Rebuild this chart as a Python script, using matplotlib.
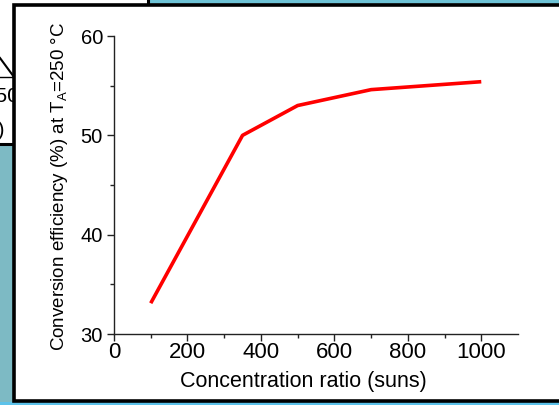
import matplotlib
matplotlib.use('Agg')
import matplotlib.pyplot as plt
from matplotlib.patches import Rectangle
from matplotlib.lines import Line2D

plt.rcParams['font.family'] = ['Liberation Sans', 'DejaVu Sans']
plt.rcParams['mathtext.fontset'] = 'custom'
plt.rcParams['mathtext.rm'] = 'Liberation Sans'
plt.rcParams['mathtext.it'] = 'Liberation Sans:italic'

# concentration ratio (suns) vs conversion efficiency (%)
conc = [100, 350, 500, 700, 1000]
eff = [33.1, 50.0, 53.0, 54.6, 55.4]

x_ticks = [0, 200, 400, 600, 800, 1000]
y_ticks = [30, 40, 50, 60]

W, H = 559, 405
fig = plt.figure(figsize=(W / 100, H / 100), dpi=100)
fig.patch.set_facecolor('#7dbac4')


def fx(px):
    return px / W


def fy(py):
    return 1 - py / H


def rect(x0, y0, x1, y1, **kw):
    return Rectangle((fx(x0), fy(y1)), fx(x1) - fx(x0), fy(y0) - fy(y1),
                     transform=fig.transFigure, **kw)


# top strip and bottom strip colours
fig.add_artist(rect(0, 0, W, 3, facecolor='#6ec3d6', edgecolor='none', zorder=-5))
fig.add_artist(rect(0, 402, W, H, facecolor='#5cc2ea', edgecolor='none', zorder=-5))

# slide box behind, top left
fig.add_artist(rect(-10, -10, 148, 144, facecolor='white', edgecolor='black',
                    linewidth=2.2, zorder=-4))
fig.add_artist(Line2D([fx(0), fx(14)], [fy(77), fy(77)], color='black', lw=1,
                      transform=fig.transFigure, zorder=-3))
fig.add_artist(Line2D([fx(0), fx(14)], [fy(58), fy(77)], color='black', lw=1.5,
                      transform=fig.transFigure, zorder=-3))
fig.text(fx(19), fy(97), '250', fontsize=15, va='center', ha='right', zorder=-3)
fig.text(fx(5), fy(130), '(%)', fontsize=15, va='center', ha='right', zorder=-3)

# main white box
fig.add_artist(rect(13.5, 4.5, W + 20, 401, facecolor='white', edgecolor='black',
                    linewidth=2.6, zorder=-1))

ax = fig.add_axes([fx(114), fy(334), fx(518) - fx(114), fy(36) - fy(334)])
ax.patch.set_visible(False)
ax.plot(conc, eff, color='#ff0000', linewidth=2.6, solid_capstyle='butt')

ax.set_xlim(0, 1100)
ax.set_ylim(30, 60)
ax.set_xticks(x_ticks)
ax.set_yticks(y_ticks)
ax.set_xticks(range(100, 1100, 200), minor=True)
ax.set_yticks([35, 45, 55], minor=True)

for s in ['top', 'right']:
    ax.spines[s].set_visible(False)
for s in ['left', 'bottom']:
    ax.spines[s].set_linewidth(1.0)
    ax.spines[s].set_color('#222222')

ax.tick_params(which='major', direction='out', length=5, width=1, color='#222222',
               pad=2)
ax.tick_params(which='minor', direction='out', length=3, width=1, color='#222222')
ax.tick_params(axis='x', which='major', labelsize=16, pad=1)
ax.tick_params(axis='y', which='major', labelsize=14.5, pad=3)

ax.set_xlabel('Concentration ratio (suns)', fontsize=15.5)
ax.set_ylabel('Conversion efficiency (%) at T$_{\\mathrm{A}}$=250 °C', fontsize=13.5)
ax.xaxis.set_label_coords((303 - 114) / 404, -(381 - 334) / 298)
ax.yaxis.set_label_coords(-(114 - 60) / 404, (334 - 186) / 298)
ax.xaxis.label.set_va('center')
ax.yaxis.label.set_va('center')

fig.savefig('out.png', dpi=100, facecolor=fig.get_facecolor())
